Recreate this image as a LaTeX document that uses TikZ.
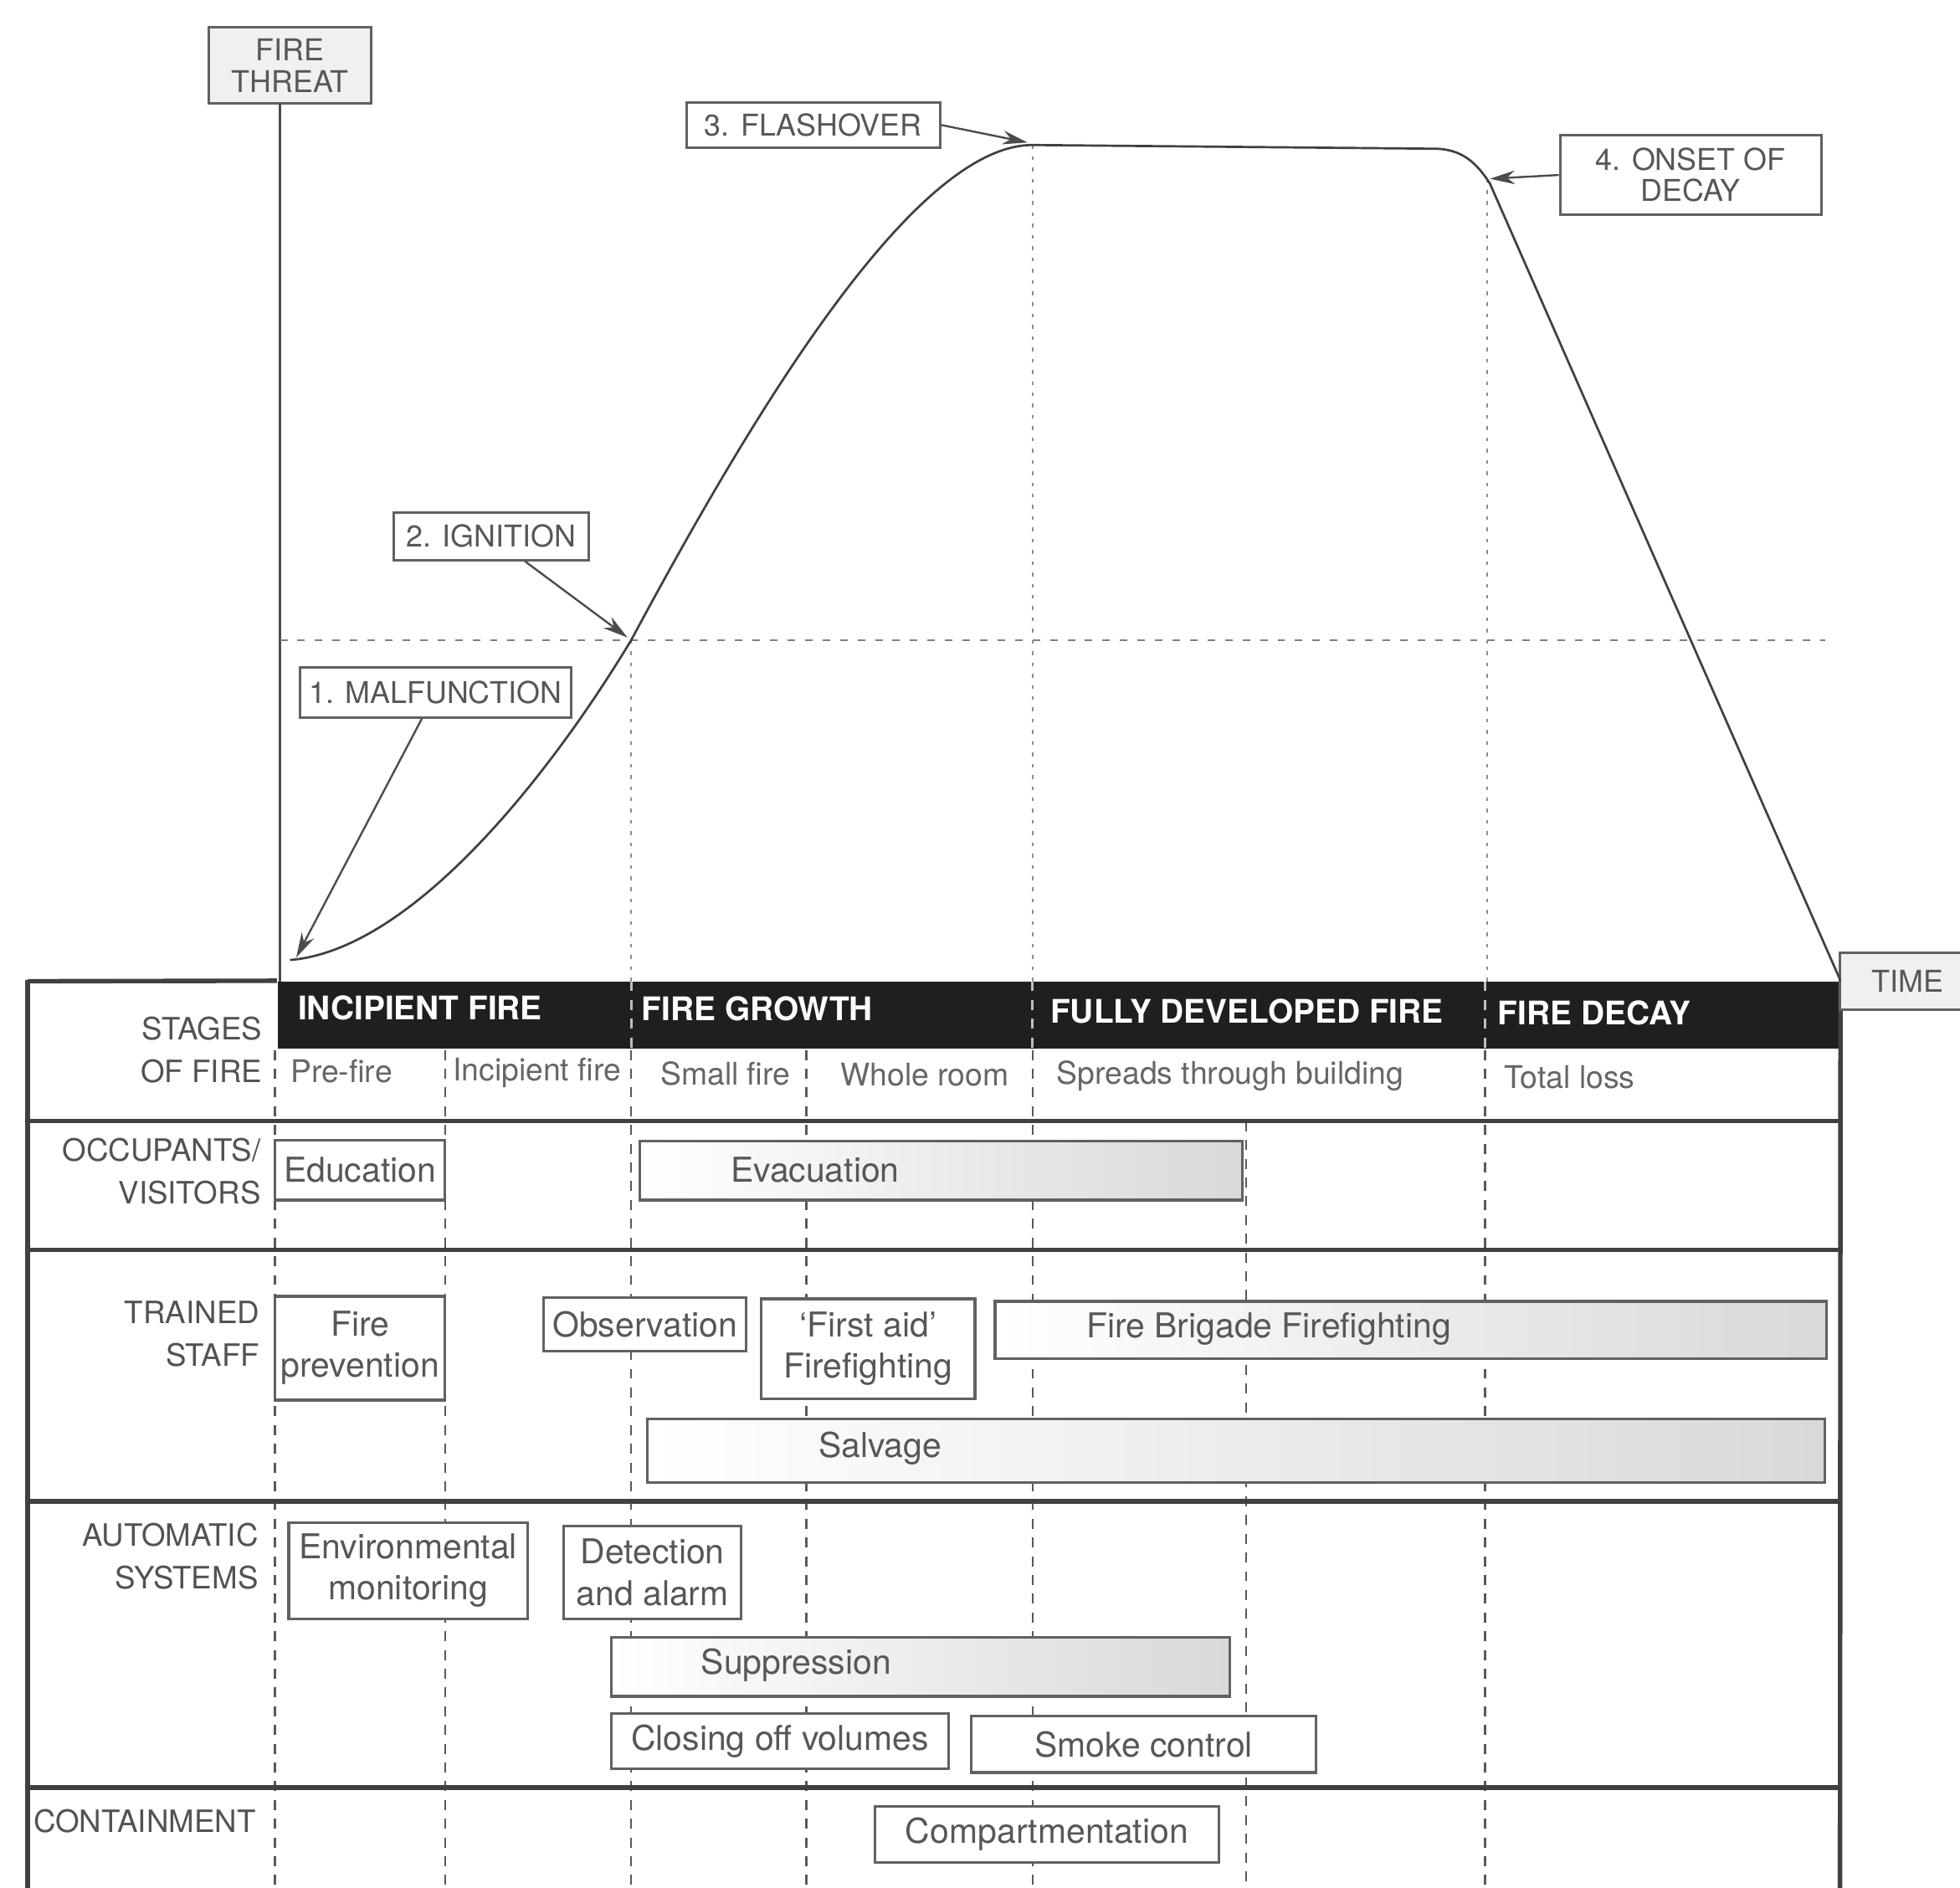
\documentclass[tikz,border=0pt]{standalone}
\usepackage{fontspec}
\setmainfont{TeX Gyre Heros}
\usetikzlibrary{arrows.meta,fit}
\begin{document}
\begin{tikzpicture}[x=0.5pt,y=-0.5pt,
  tbox/.style={draw=black!62, line width=1.1pt, fill=white, inner sep=0pt},
  gbox/.style={tbox, left color=white, right color=black!15},
  lbl/.style={draw=black!62, line width=1pt, fill=white, inner sep=0pt},
  btxt/.style={text=black!66, inner sep=0pt, align=center, font=\fontsize{13.7}{16.5}\selectfont},
  ltxt/.style={text=black!66, inner sep=0pt, align=center, font=\fontsize{12}{12.5}\selectfont},
  rowlab/.style={text=black!68, font=\fontsize{12.3}{17}\selectfont, align=right, anchor=east, inner sep=0pt},
  stg/.style={text=black!60, font=\fontsize{12.5}{14}\selectfont, anchor=west, inner sep=0pt},
  hdr/.style={text=white, font=\bfseries\fontsize{13}{14}\selectfont, anchor=west, inner sep=0pt},
  tline/.style={line width=1.8pt, draw=black!75},
  tdash/.style={draw=black!65, line width=0.8pt, dash pattern=on 4pt off 3.5pt},
  bdash/.style={draw=black!25, line width=0.9pt, dash pattern=on 4pt off 3.5pt},
  hdot/.style={draw=black!50, line width=0.7pt, dash pattern=on 3pt off 4pt},
  vdot/.style={draw=black!45, line width=0.7pt, dash pattern=on 1.5pt off 3pt},
  arr/.style={draw=black!70, line width=0.8pt, -{Stealth[length=10pt,width=5.5pt]}},
  crv/.style={draw=black!75, line width=0.9pt},
  axisline/.style={draw=black!70, line width=0.8pt}]
\useasboundingbox (0,0) rectangle (1568,1510);
\fill[white] (0,0) rectangle (1568,1510);

% ---------- table grid ----------
\node[fill=black!88, inner sep=0pt, fit={(222,785) (1472,839)}] (bar) {};

% dashed verticals in the table
\draw[tdash] (220,840) -- (220,1510);
\draw[tdash] (356,840) -- (356,1510);
\draw[tdash] (505,840) -- (505,1510);
\draw[tdash] (645,840) -- (645,1510);
\draw[tdash] (826,840) -- (826,1510);
\draw[tdash] (997,897) -- (997,1510);
\draw[tdash] (1188,840) -- (1188,1510);
\draw[bdash] (505,785) -- (505,839);
\draw[bdash] (826,785) -- (826,839);
\draw[bdash] (1188,785) -- (1188,839);

% horizontal rules and borders
\draw[tline] (22,785) -- (bar.north west);
\draw[tline] (22,784) -- (22,1512);
\draw[tline] (bar.north east) -- (1472,1512);
\draw[tline] (22,897) -- (1472,897);
\draw[tline] (22,1000) -- (1472,1000);
\draw[tline] (22,1201) -- (1472,1201);
\draw[tline] (22,1430) -- (1472,1430);

% stage headers
\node[hdr] (h1) at (238,806) {INCIPIENT FIRE};
\node[hdr] (h2) at (513,807) {FIRE GROWTH};
\node[hdr] (h3) at (840,809) {FULLY DEVELOPED FIRE};
\node[hdr] (h4) at (1198,810) {FIRE DECAY};

% sub stages
\node[stg] (s1) at (232,857) {Pre-fire};
\node[stg] (s2) at (362,858) {Incipient fire};
\node[stg] (s3) at (528,859) {Small fire};
\node[stg] (s4) at (672,860) {Whole room};
\node[stg] (s5) at (845,861) {Spreads through building};
\node[stg] (s6) at (1203,862) {Total loss};

% row labels
\node[rowlab] (r1) at (210,840) {STAGES\\OF FIRE};
\node[rowlab] (r2) at (209,937) {OCCUPANTS/\\VISITORS};
\node[rowlab] (r3) at (208,1067) {TRAINED\\STAFF};
\node[rowlab] (r4) at (207,1245) {AUTOMATIC\\SYSTEMS};
\node[rowlab] (r5) at (205,1457) {CONTAINMENT};

% activity boxes
\node[tbox, fit={(220,912) (356,960)}] (edu) {};
\node[btxt] (eduT) at (edu.center) {Education};
\node[gbox, fit={(512,913) (994,960)}] (evac) {};
\node[btxt] (evacT) at (652,936) {Evacuation};

\node[tbox, fit={(220,1037) (356,1120)}] (firep) {};
\node[btxt] (firepT) at (firep.center) {Fire\\prevention};
\node[tbox, fit={(435,1038) (597,1081)}] (obs) {};
\node[btxt] (obsT) at (obs.center) {Observation};
\node[tbox, fit={(609,1039) (780,1119)}] (aid) {};
\node[btxt] (aidT) at (aid.center) {`First aid'\\Firefighting};
\node[gbox, fit={(796,1041) (1461,1087)}] (brig) {};
\node[btxt] (brigT) at (1015,1063) {Fire Brigade Firefighting};
\node[gbox, fit={(518,1135) (1460,1186)}] (salv) {};
\node[btxt] (salvT) at (704,1159) {Salvage};

\node[tbox, fit={(231,1218) (422,1295)}] (env) {};
\node[btxt] (envT) at (env.center) {Environmental\\monitoring};
\node[tbox, fit={(451,1221) (593,1295)}] (det) {};
\node[btxt] (detT) at (det.center) {Detection\\and alarm};
\node[gbox, fit={(489,1310) (984,1357)}] (supp) {};
\node[btxt] (suppT) at (637,1332) {Suppression};
\node[tbox, fit={(489,1371) (759,1415)}] (clo) {};
\node[btxt] (cloT) at (clo.center) {Closing off volumes};
\node[tbox, fit={(777,1373) (1053,1418)}] (smk) {};
\node[btxt] (smkT) at (smk.center) {Smoke control};

\node[tbox, fit={(700,1445) (975,1490)}] (comp) {};
\node[btxt] (compT) at (comp.center) {Compartmentation};

% ---------- chart ----------
\node[lbl, fill=black!6, fit={(167,22) (297,83)}] (threat) {};
\node[ltxt] (threatT) at (threat.center) {FIRE\\THREAT};
\node[lbl, fill=black!6, fit={(1472,762) (1580,808)}] (time) {};
\node[ltxt] (timeT) at (1526,785) {TIME};

\coordinate (axTop) at (224,83);
\coordinate (axBot) at (224,785);
\draw[axisline] (axTop) -- (axBot);

\draw[hdot] (224,512) -- (1460,512);
\draw[vdot] (505,512) -- (505,785);
\draw[vdot] (826,116) -- (826,785);
\draw[vdot] (1190,143) -- (1190,785);

\draw[crv] (232,768) .. controls (330,760) and (440,620) .. (505,512)
  .. controls (600,335) and (730,116) .. (826,116)
  -- (1150,119) .. controls (1168,120) and (1180,128) .. (1192,147)
  -- (bar.north east);

\node[lbl, fit={(240,534) (457,574)}] (mal) {};
\node[ltxt] (malT) at (mal.center) {1. MALFUNCTION};
\node[lbl, fit={(315,410) (471,448)}] (ign) {};
\node[ltxt] (ignT) at (ign.center) {2. IGNITION};
\node[lbl, fit={(549,82) (752,118)}] (fla) {};
\node[ltxt] (flaT) at (fla.center) {3. FLASHOVER};
\node[lbl, fit={(1248,108) (1457,172)}] (ons) {};
\node[ltxt] (onsT) at (ons.center) {4. ONSET OF\\DECAY};

\coordinate (pMal) at (237,766);
\coordinate (pIgn) at (502,510);
\coordinate (pFla) at (822,114);
\coordinate (pOns) at (1192,143);

\draw[arr] (mal) -- (pMal);
\draw[arr] (ign) -- (pIgn);
\draw[arr] (fla.east) -- (pFla);
\draw[arr] (ons.west) -- (pOns);
\end{tikzpicture}
\end{document}
